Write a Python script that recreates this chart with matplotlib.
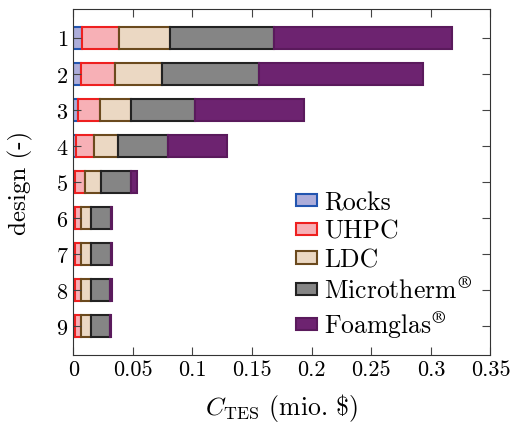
import numpy as np
import matplotlib
matplotlib.use('Agg')
import matplotlib.pyplot as plt

plt.rcParams['font.family'] = 'serif'
plt.rcParams['font.serif'] = ['cmr10', 'DejaVu Serif']
plt.rcParams['mathtext.fontset'] = 'cm'
plt.rcParams['axes.formatter.use_mathtext'] = True
plt.rcParams['font.size'] = 16

# Kostenanteile je Design (mio. $)
designs = [1, 2, 3, 4, 5, 6, 7, 8, 9]
rocks = [0.0076, 0.0067, 0.0039, 0.0025, 0.0017, 0.0013, 0.0013, 0.0013, 0.0013]
uhpc = [0.0307, 0.0286, 0.0188, 0.0148, 0.0086, 0.0054, 0.0054, 0.0054, 0.0054]
ldc = [0.0426, 0.0392, 0.0257, 0.0202, 0.0126, 0.0078, 0.0078, 0.0080, 0.0080]
microtherm = [0.0877, 0.0812, 0.0535, 0.0420, 0.0253, 0.0168, 0.0168, 0.0165, 0.0160]
foamglas = [0.1490, 0.1381, 0.0916, 0.0499, 0.0052, 0.0011, 0.0011, 0.0011, 0.0012]

labels = ['Rocks', 'UHPC', 'LDC', r'Microtherm$^{\circledR}$', r'Foamglas$^{\circledR}$']
faces = ['#adadda', '#f7b0b6', '#ebd8c3', '#858585', '#6d2370']
edges = ['#2255b0', '#ee2020', '#6b4a1e', '#222222', '#5a1a5c']

fig, ax = plt.subplots(figsize=(5.12, 4.27), dpi=100)

links = np.zeros(len(designs))
for werte, lab, fc, ec in zip([rocks, uhpc, ldc, microtherm, foamglas], labels, faces, edges):
    ax.barh(designs, werte, left=links, height=0.6, color=fc, edgecolor=ec,
            linewidth=1.5, label=lab)
    links = links + np.array(werte)

ax.set_xlim(0, 0.35)
ax.set_ylim(9.8, 0.2)
ax.set_yticks(designs)
ax.set_xticks([0, 0.05, 0.1, 0.15, 0.2, 0.25, 0.3, 0.35])
ax.set_xticklabels(['0', '0.05', '0.1', '0.15', '0.2', '0.25', '0.3', '0.35'])
ax.tick_params(direction='in', top=True, right=True, length=6, color='#444444')
for s in ax.spines.values():
    s.set_color('#333333')

ax.set_xlabel(r'$C_{\mathrm{TES}}$ (mio. \$)', fontsize=18.5, labelpad=8)
ax.set_ylabel('design (-)', fontsize=18, labelpad=16)

ax.legend(loc='lower right', frameon=False, fontsize=18.5, handlelength=0.8,
          handleheight=0.35, handletextpad=0.3, labelspacing=0.2,
          borderaxespad=0.3, bbox_to_anchor=(1.0, -0.008))

plt.subplots_adjust(left=0.143, right=0.958, top=0.977, bottom=0.166)
plt.savefig('out.png', dpi=100)
